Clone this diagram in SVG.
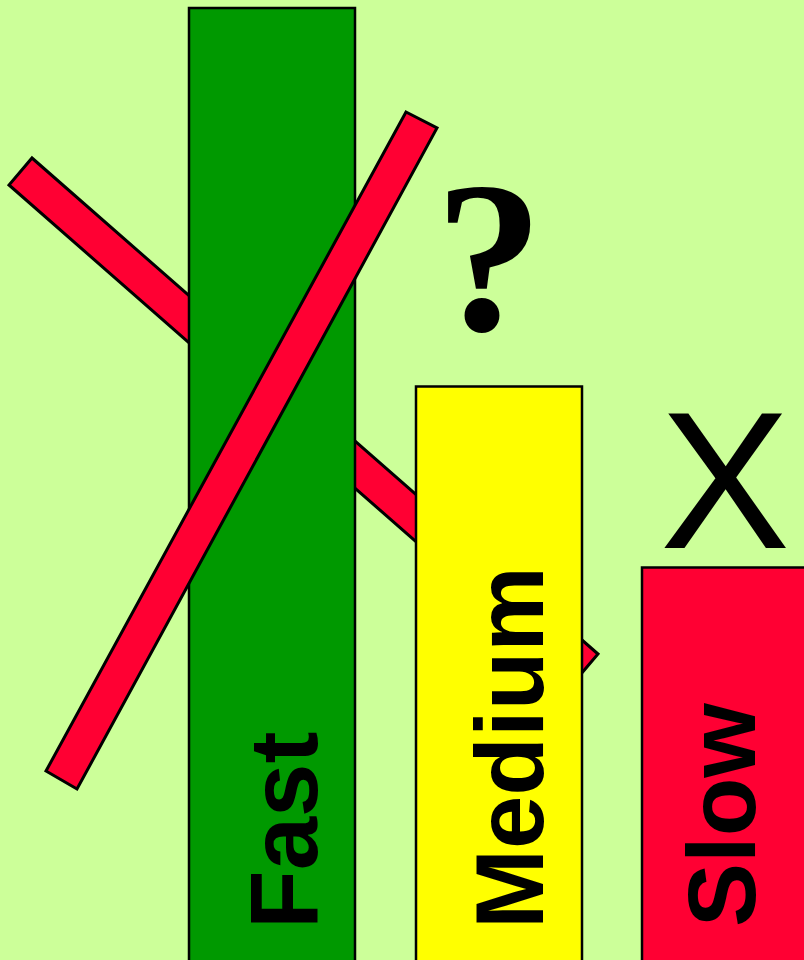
<svg xmlns="http://www.w3.org/2000/svg" width="804" height="960" viewBox="0 0 804 960">
<style>
.bar{fill:#FF0033;stroke:#000;stroke-width:3;stroke-linejoin:miter}
.col{stroke:#000;stroke-width:2.5}
.lbl{font-family:"Liberation Sans",Arial,sans-serif;font-weight:bold;font-size:96px;fill:#000}
</style>
<rect x="0" y="0" width="804" height="960" fill="#CCFF99"/>
<g id="strike-back">
<polygon class="bar" points="32,158 598,654 575,681 9,185"/>
</g>
<g id="fast">
<rect class="col" x="189" y="8" width="166" height="960" fill="#009900"/>
</g>
<g id="medium">
<rect class="col" x="416" y="386.5" width="166" height="580" fill="#FFFF00"/>
</g>
<g id="strike-front">
<polygon class="bar" points="406,112 437,128 77,789 46,771"/>
</g>
<g id="slow">
<rect class="col" x="642" y="567.5" width="170" height="400" fill="#FF0033"/>
</g>
<g id="labels">
<text class="lbl" transform="translate(317,929) rotate(-90)">Fast</text>
<text class="lbl" transform="translate(543,929) rotate(-90)">Medium</text>
<text class="lbl" transform="translate(755,927) rotate(-90)">Slow</text>
<text x="489" y="330" text-anchor="middle" font-family="'Liberation Serif','Times New Roman',serif" font-weight="bold" font-size="216" fill="#000">?</text>
<text x="725" y="548" text-anchor="middle" font-family="'Liberation Sans',Arial,sans-serif" font-size="195" fill="#000">X</text>
</g>
</svg>
